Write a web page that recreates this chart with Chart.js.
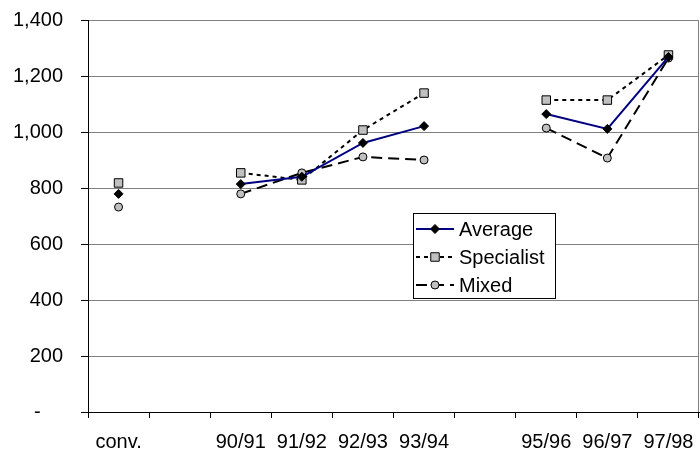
<!DOCTYPE html>
<html>
<head>
<meta charset="utf-8">
<script src="https://cdn.jsdelivr.net/npm/chart.js@4.4.0/dist/chart.umd.min.js"></script>
<style>
  html, body { margin: 0; padding: 0; background: #fff; }
  #wrap { width: 700px; height: 454px; }
</style>
</head>
<body>
<div id="wrap"><canvas id="c" width="700" height="454"></canvas></div>
<script>
// Season labels; empty strings leave a gap in the axis
const categories = ['conv.', '', '90/91', '91/92', '92/93', '93/94', '', '95/96', '96/97', '97/98'];
const average    = [779, null, 814, 840, 961, 1021, null, 1064, 1011, 1268];
const specialist = [818, null, 854, 829, 1007, 1139, null, 1114, 1114, 1275];
const mixed      = [732, null, 779, 854, 911, 900, null, 1014, 907, 1264];
const yTicks     = [0, 200, 400, 600, 800, 1000, 1200, 1400];

const FONT = 'Liberation Sans, Arial, sans-serif';
const FONT_SIZE = 20;

// Accounting-style labels: zero shows as an indented dash
function fmt(v) {
  return v === 0 ? '-    ' : v.toLocaleString('en-US');
}

// Boxed legend inside the plot, plus the right-hand frame line
const overlay = {
  id: 'overlay',
  afterDatasetsDraw(chart) {
    const ctx = chart.ctx;
    const a = chart.chartArea;
    ctx.save();
    ctx.strokeStyle = '#808080';
    ctx.lineWidth = 1;
    ctx.beginPath();
    ctx.moveTo(Math.round(a.right) - 0.5, a.top);
    ctx.lineTo(Math.round(a.right) - 0.5, a.bottom);
    ctx.stroke();

    const bx = 413.5, by = 213.5, bw = 142, bh = 85;
    ctx.fillStyle = '#fff';
    ctx.fillRect(bx, by, bw, bh);
    ctx.strokeStyle = '#000';
    ctx.strokeRect(bx, by, bw, bh);

    const rows = [229, 257, 285];
    chart.data.datasets.forEach((ds, i) => {
      const y = rows[i];
      ctx.save();
      ctx.strokeStyle = ds.borderColor;
      ctx.lineWidth = ds.borderWidth;
      ctx.setLineDash(ds.borderDash || []);
      ctx.beginPath();
      ctx.moveTo(416, y);
      ctx.lineTo(454, y);
      ctx.stroke();
      ctx.restore();
      ctx.save();
      ctx.fillStyle = ds.pointBackgroundColor;
      ctx.strokeStyle = ds.pointBorderColor;
      ctx.lineWidth = ds.pointBorderWidth;
      Chart.helpers.drawPoint(ctx, {
        pointStyle: ds.pointStyle,
        radius: ds.pointRadius,
        borderWidth: ds.pointBorderWidth
      }, 435, y);
      ctx.restore();
      ctx.fillStyle = '#000';
      ctx.font = FONT_SIZE + 'px ' + FONT;
      ctx.textBaseline = 'middle';
      ctx.textAlign = 'left';
      ctx.fillText(ds.label, 459, y + 1);
    });
    ctx.restore();
  }
};

// Keep label overhang from shrinking the plot area
function noOverhang(scale) {
  scale.paddingTop = 0;
  scale.paddingBottom = 0;
  scale.paddingLeft = 0;
  scale.paddingRight = 0;
}

new Chart(document.getElementById('c'), {
  type: 'line',
  data: {
    labels: categories,
    datasets: [
      {
        label: 'Average',
        data: average,
        borderColor: '#000080',
        borderWidth: 2,
        pointStyle: 'rectRot',
        pointRadius: 4.5,
        pointBackgroundColor: '#000',
        pointBorderColor: '#000',
        pointBorderWidth: 1,
        order: 1
      },
      {
        label: 'Specialist',
        data: specialist,
        borderColor: '#000',
        borderWidth: 2,
        borderDash: [4, 4],
        pointStyle: 'rect',
        pointRadius: 6,
        pointBackgroundColor: '#c0c0c0',
        pointBorderColor: '#000',
        pointBorderWidth: 1,
        order: 2
      },
      {
        label: 'Mixed',
        data: mixed,
        borderColor: '#000',
        borderWidth: 2,
        borderDash: [11, 6],
        pointStyle: 'circle',
        pointRadius: 4,
        pointBackgroundColor: '#c0c0c0',
        pointBorderColor: '#000',
        pointBorderWidth: 1,
        order: 3
      }
    ]
  },
  options: {
    responsive: false,
    animation: false,
    devicePixelRatio: 1,
    spanGaps: false,
    layout: { autoPadding: false, padding: { top: 20, right: 1, left: 0, bottom: 0 } },
    plugins: {
      legend: { display: false },
      tooltip: { enabled: false }
    },
    elements: { line: { tension: 0 } },
    scales: {
      x: {
        offset: true,
        grid: {
          offset: true,
          drawOnChartArea: false,
          drawTicks: true,
          tickLength: 6,
          color: '#000'
        },
        border: { color: '#000', width: 1 },
        ticks: {
          color: '#000',
          font: { family: FONT, size: FONT_SIZE },
          padding: 12,
          maxRotation: 0,
          autoSkip: false
        },
        afterFit(scale) { scale.height = 42; noOverhang(scale); }
      },
      y: {
        min: 0,
        max: 1400,
        afterBuildTicks(scale) {
          scale.ticks = yTicks.map(v => ({ value: v }));
        },
        grid: {
          color: '#808080',
          lineWidth: 1,
          drawTicks: true,
          tickLength: 7,
          tickColor: '#000'
        },
        border: { color: '#000', width: 1 },
        ticks: {
          color: '#000',
          font: { family: FONT, size: FONT_SIZE },
          padding: 18,
          callback: v => fmt(v)
        },
        afterFit(scale) { scale.width = 88; noOverhang(scale); }
      }
    }
  },
  plugins: [overlay]
});
</script>
</body>
</html>
